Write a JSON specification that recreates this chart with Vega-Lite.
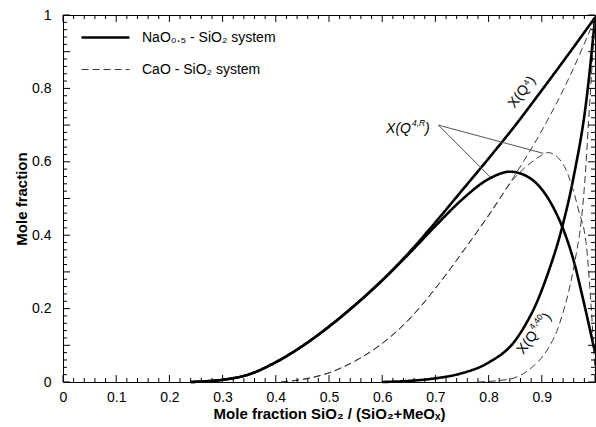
{
  "$schema": "https://vega.github.io/schema/vega-lite/v6.json",
  "width": 532,
  "height": 367,
  "autosize": "none",
  "padding": {"left": 63, "top": 15, "right": 1, "bottom": 45},
  "background": "white",
  "config": {
    "font": "Liberation Sans",
    "view": {"stroke": "black", "strokeWidth": 1},
    "axis": {"domainColor": "black", "labelColor": "black", "titleColor": "black", "grid": false, "labelFont": "Liberation Sans", "titleFont": "Liberation Sans"}
  },
  "datasets": {
    "major": [{"t": 0}, {"t": 0.1}, {"t": 0.2}, {"t": 0.3}, {"t": 0.4}, {"t": 0.5}, {"t": 0.6}, {"t": 0.7}, {"t": 0.8}, {"t": 0.9}, {"t": 1}],
    "minor": [{"t": 0.02}, {"t": 0.04}, {"t": 0.06}, {"t": 0.08}, {"t": 0.12}, {"t": 0.14}, {"t": 0.16}, {"t": 0.18}, {"t": 0.22}, {"t": 0.24}, {"t": 0.26}, {"t": 0.28}, {"t": 0.32}, {"t": 0.34}, {"t": 0.36}, {"t": 0.38}, {"t": 0.42}, {"t": 0.44}, {"t": 0.46}, {"t": 0.48}, {"t": 0.52}, {"t": 0.54}, {"t": 0.56}, {"t": 0.58}, {"t": 0.62}, {"t": 0.64}, {"t": 0.66}, {"t": 0.68}, {"t": 0.72}, {"t": 0.74}, {"t": 0.76}, {"t": 0.78}, {"t": 0.82}, {"t": 0.84}, {"t": 0.86}, {"t": 0.88}, {"t": 0.92}, {"t": 0.94}, {"t": 0.96}, {"t": 0.98}]
  },
  "layer": [
    {
      "data": {"values": [
        {"x": 0.24, "y": 0, "curve": "Q4", "system": "NaO₀.₅ - SiO₂ system"},
        {"x": 0.27, "y": 0.002, "curve": "Q4", "system": "NaO₀.₅ - SiO₂ system"},
        {"x": 0.3, "y": 0.006, "curve": "Q4", "system": "NaO₀.₅ - SiO₂ system"},
        {"x": 0.35, "y": 0.021, "curve": "Q4", "system": "NaO₀.₅ - SiO₂ system"},
        {"x": 0.4, "y": 0.054, "curve": "Q4", "system": "NaO₀.₅ - SiO₂ system"},
        {"x": 0.45, "y": 0.098, "curve": "Q4", "system": "NaO₀.₅ - SiO₂ system"},
        {"x": 0.5, "y": 0.151, "curve": "Q4", "system": "NaO₀.₅ - SiO₂ system"},
        {"x": 0.55, "y": 0.211, "curve": "Q4", "system": "NaO₀.₅ - SiO₂ system"},
        {"x": 0.6, "y": 0.277, "curve": "Q4", "system": "NaO₀.₅ - SiO₂ system"},
        {"x": 0.65, "y": 0.352, "curve": "Q4", "system": "NaO₀.₅ - SiO₂ system"},
        {"x": 0.7, "y": 0.435, "curve": "Q4", "system": "NaO₀.₅ - SiO₂ system"},
        {"x": 0.75, "y": 0.522, "curve": "Q4", "system": "NaO₀.₅ - SiO₂ system"},
        {"x": 0.8, "y": 0.609, "curve": "Q4", "system": "NaO₀.₅ - SiO₂ system"},
        {"x": 0.85, "y": 0.699, "curve": "Q4", "system": "NaO₀.₅ - SiO₂ system"},
        {"x": 0.9, "y": 0.795, "curve": "Q4", "system": "NaO₀.₅ - SiO₂ system"},
        {"x": 0.95, "y": 0.893, "curve": "Q4", "system": "NaO₀.₅ - SiO₂ system"},
        {"x": 1.0, "y": 0.993, "curve": "Q4", "system": "NaO₀.₅ - SiO₂ system"},

        {"x": 0.24, "y": 0, "curve": "Q4R", "system": "NaO₀.₅ - SiO₂ system"},
        {"x": 0.27, "y": 0.002, "curve": "Q4R", "system": "NaO₀.₅ - SiO₂ system"},
        {"x": 0.3, "y": 0.006, "curve": "Q4R", "system": "NaO₀.₅ - SiO₂ system"},
        {"x": 0.35, "y": 0.021, "curve": "Q4R", "system": "NaO₀.₅ - SiO₂ system"},
        {"x": 0.4, "y": 0.054, "curve": "Q4R", "system": "NaO₀.₅ - SiO₂ system"},
        {"x": 0.45, "y": 0.098, "curve": "Q4R", "system": "NaO₀.₅ - SiO₂ system"},
        {"x": 0.5, "y": 0.151, "curve": "Q4R", "system": "NaO₀.₅ - SiO₂ system"},
        {"x": 0.55, "y": 0.211, "curve": "Q4R", "system": "NaO₀.₅ - SiO₂ system"},
        {"x": 0.6, "y": 0.277, "curve": "Q4R", "system": "NaO₀.₅ - SiO₂ system"},
        {"x": 0.65, "y": 0.349, "curve": "Q4R", "system": "NaO₀.₅ - SiO₂ system"},
        {"x": 0.7, "y": 0.425, "curve": "Q4R", "system": "NaO₀.₅ - SiO₂ system"},
        {"x": 0.75, "y": 0.497, "curve": "Q4R", "system": "NaO₀.₅ - SiO₂ system"},
        {"x": 0.8, "y": 0.553, "curve": "Q4R", "system": "NaO₀.₅ - SiO₂ system"},
        {"x": 0.84, "y": 0.573, "curve": "Q4R", "system": "NaO₀.₅ - SiO₂ system"},
        {"x": 0.87, "y": 0.562, "curve": "Q4R", "system": "NaO₀.₅ - SiO₂ system"},
        {"x": 0.9, "y": 0.525, "curve": "Q4R", "system": "NaO₀.₅ - SiO₂ system"},
        {"x": 0.92, "y": 0.48, "curve": "Q4R", "system": "NaO₀.₅ - SiO₂ system"},
        {"x": 0.937, "y": 0.428, "curve": "Q4R", "system": "NaO₀.₅ - SiO₂ system"},
        {"x": 0.96, "y": 0.33, "curve": "Q4R", "system": "NaO₀.₅ - SiO₂ system"},
        {"x": 0.978, "y": 0.223, "curve": "Q4R", "system": "NaO₀.₅ - SiO₂ system"},
        {"x": 1.0, "y": 0.08, "curve": "Q4R", "system": "NaO₀.₅ - SiO₂ system"},

        {"x": 0.6, "y": 0, "curve": "Q440", "system": "NaO₀.₅ - SiO₂ system"},
        {"x": 0.65, "y": 0.003, "curve": "Q440", "system": "NaO₀.₅ - SiO₂ system"},
        {"x": 0.7, "y": 0.01, "curve": "Q440", "system": "NaO₀.₅ - SiO₂ system"},
        {"x": 0.75, "y": 0.024, "curve": "Q440", "system": "NaO₀.₅ - SiO₂ system"},
        {"x": 0.8, "y": 0.053, "curve": "Q440", "system": "NaO₀.₅ - SiO₂ system"},
        {"x": 0.85, "y": 0.113, "curve": "Q440", "system": "NaO₀.₅ - SiO₂ system"},
        {"x": 0.87, "y": 0.158, "curve": "Q440", "system": "NaO₀.₅ - SiO₂ system"},
        {"x": 0.89, "y": 0.215, "curve": "Q440", "system": "NaO₀.₅ - SiO₂ system"},
        {"x": 0.91, "y": 0.29, "curve": "Q440", "system": "NaO₀.₅ - SiO₂ system"},
        {"x": 0.937, "y": 0.415, "curve": "Q440", "system": "NaO₀.₅ - SiO₂ system"},
        {"x": 0.96, "y": 0.56, "curve": "Q440", "system": "NaO₀.₅ - SiO₂ system"},
        {"x": 0.984, "y": 0.77, "curve": "Q440", "system": "NaO₀.₅ - SiO₂ system"},
        {"x": 1.0, "y": 0.99, "curve": "Q440", "system": "NaO₀.₅ - SiO₂ system"},

        {"x": 0.41, "y": 0, "curve": "Q4", "system": "CaO - SiO₂ system"},
        {"x": 0.45, "y": 0.007, "curve": "Q4", "system": "CaO - SiO₂ system"},
        {"x": 0.5, "y": 0.025, "curve": "Q4", "system": "CaO - SiO₂ system"},
        {"x": 0.55, "y": 0.058, "curve": "Q4", "system": "CaO - SiO₂ system"},
        {"x": 0.6, "y": 0.105, "curve": "Q4", "system": "CaO - SiO₂ system"},
        {"x": 0.65, "y": 0.17, "curve": "Q4", "system": "CaO - SiO₂ system"},
        {"x": 0.7, "y": 0.255, "curve": "Q4", "system": "CaO - SiO₂ system"},
        {"x": 0.75, "y": 0.352, "curve": "Q4", "system": "CaO - SiO₂ system"},
        {"x": 0.8, "y": 0.455, "curve": "Q4", "system": "CaO - SiO₂ system"},
        {"x": 0.85, "y": 0.565, "curve": "Q4", "system": "CaO - SiO₂ system"},
        {"x": 0.9, "y": 0.685, "curve": "Q4", "system": "CaO - SiO₂ system"},
        {"x": 0.95, "y": 0.825, "curve": "Q4", "system": "CaO - SiO₂ system"},
        {"x": 1.0, "y": 0.99, "curve": "Q4", "system": "CaO - SiO₂ system"},

        {"x": 0.41, "y": 0, "curve": "Q4R", "system": "CaO - SiO₂ system"},
        {"x": 0.45, "y": 0.007, "curve": "Q4R", "system": "CaO - SiO₂ system"},
        {"x": 0.5, "y": 0.025, "curve": "Q4R", "system": "CaO - SiO₂ system"},
        {"x": 0.55, "y": 0.058, "curve": "Q4R", "system": "CaO - SiO₂ system"},
        {"x": 0.6, "y": 0.105, "curve": "Q4R", "system": "CaO - SiO₂ system"},
        {"x": 0.65, "y": 0.17, "curve": "Q4R", "system": "CaO - SiO₂ system"},
        {"x": 0.7, "y": 0.255, "curve": "Q4R", "system": "CaO - SiO₂ system"},
        {"x": 0.75, "y": 0.352, "curve": "Q4R", "system": "CaO - SiO₂ system"},
        {"x": 0.8, "y": 0.453, "curve": "Q4R", "system": "CaO - SiO₂ system"},
        {"x": 0.85, "y": 0.558, "curve": "Q4R", "system": "CaO - SiO₂ system"},
        {"x": 0.88, "y": 0.598, "curve": "Q4R", "system": "CaO - SiO₂ system"},
        {"x": 0.9, "y": 0.618, "curve": "Q4R", "system": "CaO - SiO₂ system"},
        {"x": 0.912, "y": 0.625, "curve": "Q4R", "system": "CaO - SiO₂ system"},
        {"x": 0.93, "y": 0.612, "curve": "Q4R", "system": "CaO - SiO₂ system"},
        {"x": 0.945, "y": 0.58, "curve": "Q4R", "system": "CaO - SiO₂ system"},
        {"x": 0.953, "y": 0.55, "curve": "Q4R", "system": "CaO - SiO₂ system"},
        {"x": 0.969, "y": 0.469, "curve": "Q4R", "system": "CaO - SiO₂ system"},
        {"x": 0.984, "y": 0.369, "curve": "Q4R", "system": "CaO - SiO₂ system"},
        {"x": 0.993, "y": 0.2, "curve": "Q4R", "system": "CaO - SiO₂ system"},
        {"x": 1.0, "y": 0.03, "curve": "Q4R", "system": "CaO - SiO₂ system"},

        {"x": 0.78, "y": 0, "curve": "Q440", "system": "CaO - SiO₂ system"},
        {"x": 0.82, "y": 0.004, "curve": "Q440", "system": "CaO - SiO₂ system"},
        {"x": 0.846, "y": 0.01, "curve": "Q440", "system": "CaO - SiO₂ system"},
        {"x": 0.88, "y": 0.038, "curve": "Q440", "system": "CaO - SiO₂ system"},
        {"x": 0.909, "y": 0.085, "curve": "Q440", "system": "CaO - SiO₂ system"},
        {"x": 0.93, "y": 0.145, "curve": "Q440", "system": "CaO - SiO₂ system"},
        {"x": 0.94, "y": 0.19, "curve": "Q440", "system": "CaO - SiO₂ system"},
        {"x": 0.955, "y": 0.275, "curve": "Q440", "system": "CaO - SiO₂ system"},
        {"x": 0.966, "y": 0.36, "curve": "Q440", "system": "CaO - SiO₂ system"},
        {"x": 0.972, "y": 0.414, "curve": "Q440", "system": "CaO - SiO₂ system"},
        {"x": 0.98, "y": 0.53, "curve": "Q440", "system": "CaO - SiO₂ system"},
        {"x": 0.99, "y": 0.76, "curve": "Q440", "system": "CaO - SiO₂ system"},
        {"x": 1.0, "y": 0.99, "curve": "Q440", "system": "CaO - SiO₂ system"}
      ]},
      "mark": {"type": "line", "interpolate": "monotone"},
      "encoding": {
        "x": {"field": "x", "type": "quantitative", "scale": {"domain": [0, 1], "nice": false, "zero": false},
          "axis": {"orient": "bottom",
            "values": [0,0.1,0.2,0.3,0.4,0.5,0.6,0.7,0.8,0.9,1],
            "ticks": false, "domain": false,
            "labelExpr": "datum.value<0.99 ? format(datum.value, '.1~f') : ''",
            "labelOverlap": false, "labelFlush": false, "labelFontSize": 14, "labelPadding": 8,
            "title": "Mole fraction SiO₂ / (SiO₂+MeOₓ)", "titleFontSize": 15, "titleFontWeight": "bold", "titlePadding": 2}},
        "y": {"field": "y", "type": "quantitative", "scale": {"domain": [0, 1], "nice": false, "zero": false},
          "axis": {"orient": "left",
            "values": [0,0.1,0.2,0.3,0.4,0.5,0.6,0.7,0.8,0.9,1],
            "ticks": false, "domain": false,
            "labelExpr": "format(datum.value, '.1~f')",
            "labelOverlap": false, "labelFlush": false, "labelFontSize": 14, "labelPadding": 12,
            "title": "Mole fraction", "titleFontSize": 15, "titleFontWeight": "bold", "titlePadding": 2}},
        "detail": {"field": "curve"},
        "color": {"field": "system", "type": "ordinal",
          "scale": {"type": "ordinal", "domain": ["NaO₀.₅ - SiO₂ system", "CaO - SiO₂ system"], "range": ["#000000", "#3a3a3a"]},
          "legend": {"orient": "none", "legendX": 17, "legendY": -3, "title": null, "symbolType": "stroke", "symbolSize": 2300, "labelFontSize": 14, "labelFont": "Liberation Sans", "labelColor": "black", "rowPadding": -16, "labelOffset": 11, "padding": 0, "labelLimit": 300}},
        "strokeDash": {"field": "system", "type": "ordinal",
          "scale": {"type": "ordinal", "domain": ["NaO₀.₅ - SiO₂ system", "CaO - SiO₂ system"], "range": [[1, 0], [7, 4]]},
          "legend": {"orient": "none", "legendX": 17, "legendY": -3, "title": null, "symbolType": "stroke", "symbolSize": 2300, "labelFontSize": 14, "labelFont": "Liberation Sans", "labelColor": "black", "rowPadding": -16, "labelOffset": 11, "padding": 0, "labelLimit": 300}},
        "strokeWidth": {"field": "system", "type": "ordinal",
          "scale": {"type": "ordinal", "domain": ["NaO₀.₅ - SiO₂ system", "CaO - SiO₂ system"], "range": [2.6, 1]},
          "legend": {"orient": "none", "legendX": 17, "legendY": -3, "title": null, "symbolType": "stroke", "symbolSize": 2300, "labelFontSize": 14, "labelFont": "Liberation Sans", "labelColor": "black", "rowPadding": -16, "labelOffset": 11, "padding": 0, "labelLimit": 300}}
      }
    },
    {
      "data": {"name": "major"},
      "mark": {"type": "rule", "color": "black", "strokeWidth": 1},
      "encoding": {"x": {"field": "t", "type": "quantitative"}, "y": {"datum": 0}, "y2": {"datum": 0.019}}
    },
    {
      "data": {"name": "minor"},
      "mark": {"type": "rule", "color": "black", "strokeWidth": 1},
      "encoding": {"x": {"field": "t", "type": "quantitative"}, "y": {"datum": 0}, "y2": {"datum": 0.011}}
    },
    {
      "data": {"name": "major"},
      "mark": {"type": "rule", "color": "black", "strokeWidth": 1},
      "encoding": {"x": {"field": "t", "type": "quantitative"}, "y": {"datum": 1}, "y2": {"datum": 0.981}}
    },
    {
      "data": {"name": "minor"},
      "mark": {"type": "rule", "color": "black", "strokeWidth": 1},
      "encoding": {"x": {"field": "t", "type": "quantitative"}, "y": {"datum": 1}, "y2": {"datum": 0.989}}
    },
    {
      "data": {"name": "major"},
      "mark": {"type": "rule", "color": "black", "strokeWidth": 1},
      "encoding": {"y": {"field": "t", "type": "quantitative"}, "x": {"datum": 0}, "x2": {"datum": 0.0132}}
    },
    {
      "data": {"name": "minor"},
      "mark": {"type": "rule", "color": "black", "strokeWidth": 1},
      "encoding": {"y": {"field": "t", "type": "quantitative"}, "x": {"datum": 0}, "x2": {"datum": 0.0075}}
    },
    {
      "data": {"name": "major"},
      "mark": {"type": "rule", "color": "black", "strokeWidth": 1},
      "encoding": {"y": {"field": "t", "type": "quantitative"}, "x": {"datum": 1}, "x2": {"datum": 0.9868}}
    },
    {
      "data": {"name": "minor"},
      "mark": {"type": "rule", "color": "black", "strokeWidth": 1},
      "encoding": {"y": {"field": "t", "type": "quantitative"}, "x": {"datum": 1}, "x2": {"datum": 0.9925}}
    },
    {
      "data": {"values": [
        {"x": 0.7055, "y": 0.700, "x2": 0.8026, "y2": 0.559},
        {"x": 0.7055, "y": 0.700, "x2": 0.903, "y2": 0.623}
      ]},
      "mark": {"type": "rule", "color": "#555555", "strokeWidth": 1},
      "encoding": {
        "x": {"field": "x", "type": "quantitative"},
        "x2": {"field": "x2"},
        "y": {"field": "y", "type": "quantitative"},
        "y2": {"field": "y2"}
      }
    },
    {
      "data": {"values": [{"label": "X(Q⁴)", "x": 0.863, "y": 0.79}]},
      "mark": {"type": "text", "angle": -53, "fontSize": 14, "font": "Liberation Sans", "align": "center", "baseline": "middle", "color": "black"},
      "encoding": {
        "x": {"field": "x", "type": "quantitative"},
        "y": {"field": "y", "type": "quantitative"},
        "text": {"field": "label"}
      }
    },
    {
      "data": {"values": [{"label": "X(Q", "x": 0.6541, "y": 0.6777}]},
      "mark": {"type": "text", "fontSize": 14, "fontStyle": "italic", "font": "Liberation Sans", "align": "right", "baseline": "alphabetic", "color": "black"},
      "encoding": {
        "x": {"field": "x", "type": "quantitative"},
        "y": {"field": "y", "type": "quantitative"},
        "text": {"field": "label"}
      }
    },
    {
      "data": {"values": [{"label": "4,R", "x": 0.6541, "y": 0.6777}]},
      "mark": {"type": "text", "fontSize": 8.5, "fontStyle": "italic", "font": "Liberation Sans", "align": "left", "baseline": "alphabetic", "dx": 1, "dy": -7, "color": "black"},
      "encoding": {
        "x": {"field": "x", "type": "quantitative"},
        "y": {"field": "y", "type": "quantitative"},
        "text": {"field": "label"}
      }
    },
    {
      "data": {"values": [{"label": ")", "x": 0.6541, "y": 0.6777}]},
      "mark": {"type": "text", "fontSize": 14, "fontStyle": "italic", "font": "Liberation Sans", "align": "left", "baseline": "alphabetic", "dx": 14, "color": "black"},
      "encoding": {
        "x": {"field": "x", "type": "quantitative"},
        "y": {"field": "y", "type": "quantitative"},
        "text": {"field": "label"}
      }
    },
    {
      "data": {"values": [{"label": "X(Q", "x": 0.8934, "y": 0.1278}]},
      "mark": {"type": "text", "angle": -53, "fontSize": 14, "font": "Liberation Sans", "align": "right", "baseline": "alphabetic", "color": "black"},
      "encoding": {
        "x": {"field": "x", "type": "quantitative"},
        "y": {"field": "y", "type": "quantitative"},
        "text": {"field": "label"}
      }
    },
    {
      "data": {"values": [{"label": "4,40", "x": 0.8934, "y": 0.1278}]},
      "mark": {"type": "text", "angle": -53, "fontSize": 8.5, "font": "Liberation Sans", "align": "left", "baseline": "alphabetic", "dx": 1, "dy": -7, "color": "black"},
      "encoding": {
        "x": {"field": "x", "type": "quantitative"},
        "y": {"field": "y", "type": "quantitative"},
        "text": {"field": "label"}
      }
    },
    {
      "data": {"values": [{"label": ")", "x": 0.8934, "y": 0.1278}]},
      "mark": {"type": "text", "angle": -53, "fontSize": 14, "font": "Liberation Sans", "align": "left", "baseline": "alphabetic", "dx": 18, "color": "black"},
      "encoding": {
        "x": {"field": "x", "type": "quantitative"},
        "y": {"field": "y", "type": "quantitative"},
        "text": {"field": "label"}
      }
    }
  ]
}
